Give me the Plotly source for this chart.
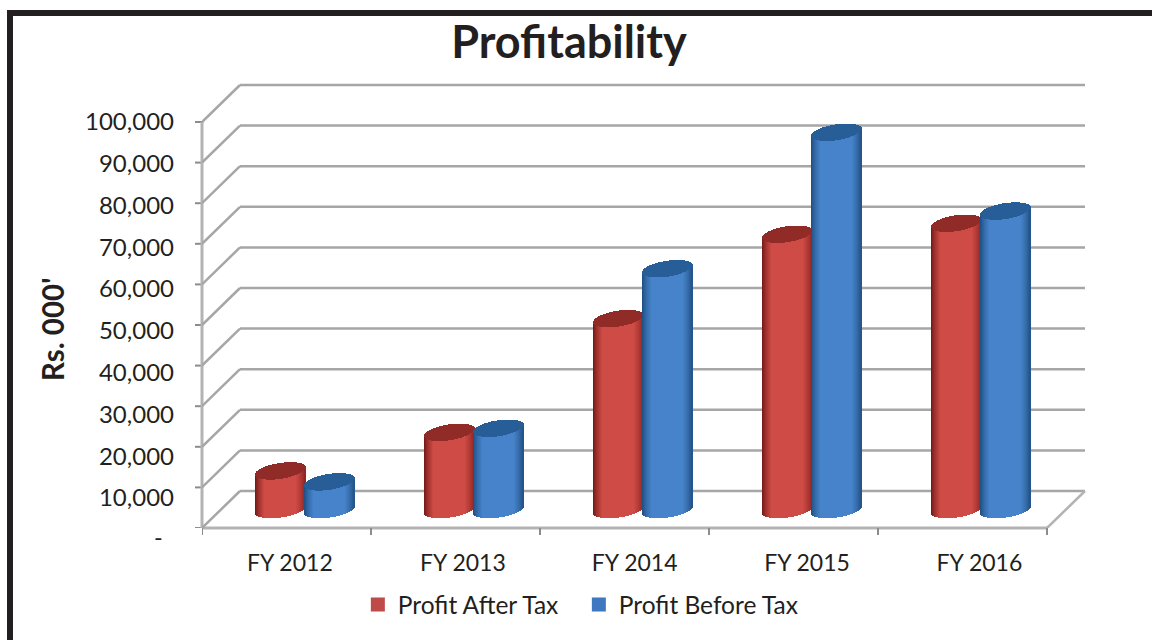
import numpy as np
import plotly.graph_objects as go

years = ["FY 2012", "FY 2013", "FY 2014", "FY 2015", "FY 2016"]
profit_after_tax = [9500, 19000, 47000, 67800, 70500]
profit_before_tax = [6800, 20000, 59300, 92900, 73500]
y_ticks = [0, 10000, 20000, 30000, 40000, 50000, 60000, 70000, 80000, 90000, 100000]
y_tick_text = ["10,000", "20,000", "30,000", "40,000", "50,000", "60,000", "70,000", "80,000", "90,000", "100,000"]
# the labels in the picture drift away from their tick marks towards the bottom
y_label_pos = [7400, 17690, 27980, 38270, 48560, 58850, 69140, 79430, 89720, 100000]
x_label_pos = [0.52, 1.544, 2.56, 3.58, 4.60]

FONT = "Lato"
TEXT = "#231f20"
GRID = "#a6a6a6"

# pixel geometry of the fake 3D box
L, R, T, B = 202, 1090, 80, 528
PX_X = 1 / 169.0  # one pixel in category units
PX_Y = 1 / 0.00406  # one pixel in value units
DEPTH_X = 38 * PX_X
DEPTH_Y = 37 * PX_Y
RADIUS = 25
ELL_B = 8
TILT = 3.5


def lerp_hex(c1, c2, f):
    a = [int(c1[i:i + 2], 16) for i in (1, 3, 5)]
    b = [int(c2[i:i + 2], 16) for i in (1, 3, 5)]
    return "rgb(%d,%d,%d)" % tuple(round(p + (q - p) * f) for p, q in zip(a, b))


def cylinders(values, offset, left, mid, right, cap, name):
    """One bar per pixel column, so the shading and the round ends come from bars."""
    xs, bases, heights, colors = [], [], [], []
    ts = (np.arange(2 * RADIUS) + 0.5) / RADIUS - 1
    for i, val in enumerate(values):
        cx = i + 0.5 + DEPTH_X / 2 + offset - 0.5 * PX_X
        for t in ts:
            round_b = ELL_B * np.sqrt(1 - t * t) * PX_Y
            slope = TILT * t * PX_Y
            edge = left if t < 0 else right
            shade = min(1, (1 - abs(t)) / 0.38) ** 0.75
            # side of the cylinder
            low = DEPTH_Y / 2 + slope - round_b
            xs.append(cx + t * RADIUS * PX_X)
            bases.append(low)
            heights.append(val + round_b)
            colors.append(lerp_hex(edge, mid, shade))
            # cap
            xs.append(cx + t * RADIUS * PX_X)
            bases.append(DEPTH_Y / 2 + val + slope - round_b)
            heights.append(2 * round_b)
            colors.append(cap)
    return go.Bar(
        x=xs, y=heights, base=bases, width=PX_X * 1.02,
        marker=dict(color=colors, line=dict(width=0)),
        showlegend=False, name=name, hoverinfo="skip",
    )


fig = go.Figure()
fig.add_trace(cylinders(profit_after_tax, -0.145, "#6b1512", "#cf4b46", "#8a2320", "#912b28", "Profit After Tax"))
fig.add_trace(cylinders(profit_before_tax, 0.145, "#1c4a7c", "#4683cb", "#214f82", "#275e97", "Profit Before Tax"))

# legend entries
for name, color in [("Profit After Tax", "#be4b48"), ("Profit Before Tax", "#3f78c0")]:
    fig.add_trace(go.Scatter(x=[None], y=[None], mode="markers", name=name,
                             marker=dict(symbol="square", size=14, color=color)))

shapes = []


def line(x0, y0, x1, y1, color=GRID, width=2.5):
    shapes.append(dict(type="line", xref="x", yref="y", x0=x0, y0=y0, x1=x1, y1=y1,
                       layer="below", line=dict(color=color, width=width)))


n = len(years)
for v in y_ticks:
    line(0, v, DEPTH_X, v + DEPTH_Y)
    line(DEPTH_X, v + DEPTH_Y, n + DEPTH_X, v + DEPTH_Y)
    shapes.append(dict(type="line", xref="paper", yref="y", x0=0, x1=-7 / (R - L), y0=v, y1=v,
                       layer="below", line=dict(color="#8c8c8c", width=2)))
line(n, 0, n + DEPTH_X, DEPTH_Y, "#b3b3b3", 2.5)
# axis lines and x ticks sit on the plot edge, paper refs keep them from being clipped
shapes.append(dict(type="line", xref="paper", yref="y", x0=0, x1=0, y0=0, y1=y_ticks[-1],
                   layer="below", line=dict(color="#b3b3b3", width=3)))
shapes.append(dict(type="line", xref="x", yref="paper", x0=0, x1=n, y0=0, y1=0,
                   layer="below", line=dict(color="#b3b3b3", width=3)))
for i in range(n + 1):
    shapes.append(dict(type="line", xref="x", yref="paper", x0=i, x1=i, y0=0, y1=-7 / (B - T),
                       layer="below", line=dict(color="#8c8c8c", width=2)))

# black frame round the picture, open to the right and the bottom
for x0, y0, x1, y1 in [(7, 10, 13, 640), (7, 10, 1152, 16)]:
    shapes.append(dict(type="rect", xref="paper", yref="paper", layer="above",
                       x0=(x0 - L) / (R - L), x1=(x1 - L) / (R - L),
                       y0=(B - y1) / (B - T), y1=(B - y0) / (B - T),
                       fillcolor="#231f20", line=dict(width=0)))

fig.update_layout(
    width=1152, height=640,
    margin=dict(l=L, r=1152 - R, t=T, b=640 - B),
    paper_bgcolor="white", plot_bgcolor="white",
    barmode="overlay", bargap=0,
    font=dict(family=FONT, size=24, color=TEXT),
    shapes=shapes,
    title=dict(text="<b>Profitability</b>", x=569 / 1152, xanchor="center", y=0.934, yanchor="middle",
               font=dict(family=FONT, size=45, color=TEXT)),
    legend=dict(orientation="h", x=0.1755, xanchor="left", y=-0.1205, yanchor="top",
                entrywidth=176, entrywidthmode="pixels",
                font=dict(family=FONT, size=24.5, color=TEXT), bgcolor="rgba(0,0,0,0)"),
    annotations=[
        dict(text="<b>Rs. 000'</b>", textangle=-90, xref="paper", yref="paper",
             x=(52 - L) / (R - L), y=(B - 330) / (B - T), xanchor="center", yanchor="middle",
             showarrow=False, font=dict(family=FONT, size=29.5, color=TEXT)),
        # zero label of the accounting format, set apart from the other tick labels
        dict(text="-", xref="paper", yref="paper",
             x=(158 - L) / (R - L), y=(B - 537) / (B - T), xanchor="center", yanchor="middle",
             showarrow=False, font=dict(family=FONT, size=23.5, color=TEXT)),
    ],
)
fig.update_xaxes(
    range=[0, (R - L) * PX_X], showgrid=False, zeroline=False, showline=False,
    tickmode="array", tickvals=x_label_pos, ticktext=years,
    ticks="", ticklabelstandoff=19, tickfont=dict(size=23),
)
fig.update_yaxes(
    range=[0, (B - T) * PX_Y], showgrid=False, zeroline=False, showline=False,
    tickmode="array", tickvals=y_label_pos, ticktext=y_tick_text,
    ticks="", ticklabelstandoff=27,
)

# the default page keeps an 8px body margin, which would shift the whole chart
fig.write_html("out.html", config=dict(displayModeBar=False),
               post_script="document.body.style.margin='0';")
